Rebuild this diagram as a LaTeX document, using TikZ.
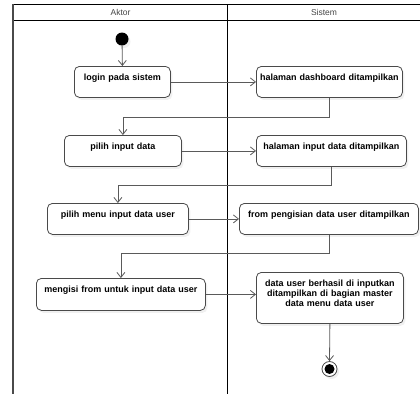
\documentclass[tikz,border=0pt]{standalone}
\usepackage{fontspec}
\setmainfont{Liberation Sans}
\usetikzlibrary{arrows.meta,shadows,positioning}
\definecolor{edge}{HTML}{4A4A4A}
\definecolor{wire}{HTML}{5A5A5A}
\definecolor{head}{HTML}{444444}
\begin{document}
\begin{tikzpicture}[x=1pt,y=-1pt,
  act/.style={draw=edge, line width=0.8pt, rounded corners=5pt, fill=white,
    inner sep=0pt, align=center, text height=14pt,
    font=\fontsize{9}{10}\selectfont\bfseries, anchor=north west,
    drop shadow={shadow xshift=2pt, shadow yshift=-2.5pt, opacity=0.12}},
  flow/.style={draw=wire, line width=0.8pt, -{Straight Barb[length=5pt,width=8pt]}},
  lane/.style={draw=black, line width=1.1pt},
  lanetitle/.style={font=\fontsize{8.5}{9}\selectfont, text=head, inner sep=0pt}]
\useasboundingbox (0,0) rectangle (420,394);

% swimlane frame
\draw[lane] (13,4.5) -- (420,4.5);
\draw[lane] (13,20.5) -- (420,20.5);
\draw[draw=edge, line width=1.8pt] (13,4) -- (13,394);
\draw[lane] (227.5,4.5) -- (227.5,394);
\node[lanetitle] (tAktor) at (120.5,12.5) {Aktor};
\node[lanetitle] (tSistem) at (324,12.5) {Sistem};

% start and end
\node[circle, fill=black, minimum size=13pt, inner sep=0pt,
  drop shadow={shadow xshift=2pt, shadow yshift=-2.5pt, opacity=0.12}] (start) at (122,39) {};
\node[circle, draw=edge, fill=white, line width=0.8pt, minimum size=15pt, inner sep=0pt,
  drop shadow={shadow xshift=2pt, shadow yshift=-2.5pt, opacity=0.12}] (stop) at (329.5,369) {};
\fill (stop) circle (5pt);

% activities
\node[act, text width=96pt, text depth=17pt] (login) at (74,66) {login pada sistem};
\node[act, text width=146pt, text depth=17pt] (dash) at (256,66) {halaman dashboard ditampilkan};
\node[act, text width=117pt, text depth=17pt] (pilih) at (64,135) {pilih input data};
\node[act, text width=150pt, text depth=17pt] (hinput) at (256,135) {halaman input data ditampilkan};
\node[act, text width=141pt, text depth=17pt] (menu) at (47,203) {pilih menu input data user};
\node[act, text width=179pt, text depth=17pt] (form) at (239,203) {from pengisian data user ditampilkan};
\node[act, text width=169pt, text depth=18pt] (isi) at (36,278) {mengisi from untuk input data user};
\node[act, text width=147pt, text depth=37pt] (hasil) at (256,272)
  {data user berhasil di inputkan\\ditampilkan di bagian master\\data menu data user};

% control flow
\draw[flow] (start) -- (login.north);
\draw[flow] (login.east) -- (dash.west);
\draw[flow] (dash.south) -- ++(0,20) -| (pilih.north);
\draw[flow] (pilih.east) -- (hinput.west);
\draw[flow] (hinput.south) -- ++(0,19) -| (menu.north);
\draw[flow] (menu.east) -- (form.west);
\draw[flow] (form.south) -- ++(0,19) -| (isi.north);
\draw[flow] (isi.east) -- (isi.east -| hasil.west);
\draw[flow] (hasil.south) -- (stop.north);
\end{tikzpicture}
\end{document}
